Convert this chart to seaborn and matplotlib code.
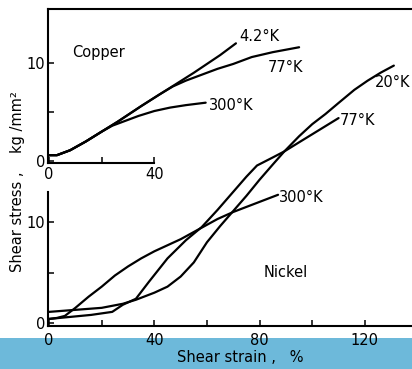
import matplotlib
matplotlib.use("Agg")
import matplotlib.pyplot as plt
from matplotlib.patches import Rectangle
import seaborn as sns

sns.set_style("ticks")
plt.rcParams["font.family"] = ["DejaVu Sans"]
plt.rcParams.update({
    "text.color": "black",
    "axes.edgecolor": "black",
    "xtick.color": "black",
    "ytick.color": "black",
    "axes.labelcolor": "black",
})

# ---- Nickel (main axes): shear strain (%) vs shear stress (kg/mm^2)
ni_20k_strain = [0, 10, 20, 28, 33, 40, 45, 50, 55, 60, 65, 70, 75, 80, 85,
                 89.4, 95, 100, 105, 110, 116, 121, 126, 131]
ni_20k_stress = [1.1, 1.3, 1.5, 1.9, 2.3, 3.0, 3.6, 4.6, 6.0, 8.0, 9.6, 11.1,
                 12.6, 14.2, 15.7, 17.0, 18.5, 19.7, 20.7, 21.8, 23.1, 24.0,
                 24.8, 25.5]

ni_77k_strain = [0, 8, 16, 24, 28, 33, 38, 45, 52, 58, 64, 70, 75, 79, 85,
                 89.4, 95, 100, 105, 110]
ni_77k_stress = [0.4, 0.6, 0.8, 1.1, 1.8, 2.4, 4.1, 6.4, 8.2, 9.5, 11.2, 13.0,
                 14.5, 15.6, 16.4, 17.0, 17.9, 18.7, 19.5, 20.3]

ni_300k_strain = [0, 3, 6, 10, 15, 20, 25, 30, 35, 40, 45, 50, 57, 64, 70, 76,
                  82, 87]
ni_300k_stress = [0.4, 0.5, 0.7, 1.5, 2.6, 3.6, 4.7, 5.6, 6.4, 7.1, 7.7, 8.3,
                  9.3, 10.3, 11.0, 11.6, 12.2, 12.7]

# ---- Copper (inset)
cu_4k_strain = [0, 3, 8, 14, 20, 26, 35, 45, 55, 65, 71]
cu_4k_stress = [0.6, 0.6, 1.1, 2.0, 3.0, 4.0, 5.6, 7.3, 9.0, 10.8, 12.0]

cu_77k_strain = [0, 3, 8, 14, 20, 26, 35, 42, 47, 52, 58, 64, 70, 77, 85, 95]
cu_77k_stress = [0.6, 0.6, 1.1, 2.0, 3.0, 4.0, 5.6, 6.8, 7.6, 8.2, 8.8, 9.4,
                 9.9, 10.6, 11.1, 11.6]

cu_300k_strain = [0, 3, 8, 14, 20, 24, 28, 34, 40, 46, 52, 59.5]
cu_300k_stress = [0.6, 0.6, 1.1, 2.0, 3.0, 3.6, 4.0, 4.6, 5.1, 5.45, 5.7, 5.95]

W, H = 412, 369
fig = plt.figure(figsize=(W / 100, H / 100), dpi=100)
fig.patch.set_facecolor("white")

# light-blue band along the bottom edge
fig.add_artist(Rectangle((0, 0), 1, (H - 338) / H, transform=fig.transFigure,
                         facecolor="#6db9da", edgecolor="none", zorder=-5))

FS = 10.5
LW = 1.6
SPW = 1.5

left = 47.5 / W
width = 1 - left

# main axes (Nickel)
ax = fig.add_axes([left, (H - 326) / H, width, 326 / H])
ax.set_facecolor("none")
ax.set_xlim(-0.6, 137.9)
ax.set_ylim(-0.3, 32.0)
for s_x, s_y in [(ni_20k_strain, ni_20k_stress),
                 (ni_77k_strain, ni_77k_stress),
                 (ni_300k_strain, ni_300k_stress)]:
    sns.lineplot(x=s_x, y=s_y, ax=ax, color="black", lw=LW, sort=False,
                 estimator=None)
ax.spines["top"].set_visible(False)
ax.spines["right"].set_visible(False)
ax.spines["left"].set_bounds(-0.3, 13.0)
for sp in ("left", "bottom"):
    ax.spines[sp].set_linewidth(SPW)
    ax.spines[sp].set_color("black")
ax.set_xticks([0, 20, 40, 60, 80, 100, 120])
ax.set_xticklabels(["0", "", "40", "", "80", "", "120"])
ax.set_yticks([0, 5, 10])
ax.set_yticklabels(["0", "", "10"])
ax.tick_params(axis="x", direction="in", length=4.5, width=1.1, pad=5,
               labelsize=FS, colors="black")
ax.tick_params(axis="y", direction="in", length=4.5, width=1.1, pad=1.5,
               labelsize=FS, colors="black")
ax.set_xlabel("")
ax.set_ylabel("")

ax.text(123.8, 23.8, "20°K", fontsize=FS, ha="left", va="center")
ax.text(110.5, 20.1, "77°K", fontsize=FS, ha="left", va="center")
ax.text(87.5, 12.4, "300°K", fontsize=FS, ha="left", va="center")
ax.text(90, 5.0, "Nickel", fontsize=FS, ha="center", va="center")

# inset axes (Copper)
ins = fig.add_axes([left, (H - 163) / H, width, (163 - 9) / H])
ins.set_facecolor("none")
ins.set_xlim(-0.6, 137.9)
ins.set_ylim(-0.2, 15.5)
for s_x, s_y in [(cu_4k_strain, cu_4k_stress),
                 (cu_77k_strain, cu_77k_stress),
                 (cu_300k_strain, cu_300k_stress)]:
    sns.lineplot(x=s_x, y=s_y, ax=ins, color="black", lw=LW, sort=False,
                 estimator=None)
ins.spines["right"].set_visible(False)
ins.spines["bottom"].set_bounds(-0.6, 40)
for sp in ("left", "bottom", "top"):
    ins.spines[sp].set_linewidth(SPW)
    ins.spines[sp].set_color("black")
ins.set_xticks([0, 20, 40])
ins.set_xticklabels(["0", "", "40"])
ins.set_yticks([0, 5, 10])
ins.set_yticklabels(["0", "", "10"])
ins.tick_params(axis="x", direction="in", length=4.5, width=1.1, pad=3,
                labelsize=FS, colors="black")
ins.tick_params(axis="y", direction="in", length=4.5, width=1.1, pad=1.5,
                labelsize=FS, colors="black")
ins.set_xlabel("")
ins.set_ylabel("")

ins.text(18.6, 11.1, "Copper", fontsize=FS, ha="center", va="center")
ins.text(72.3, 12.7, "4.2°K", fontsize=FS, ha="left", va="center")
ins.text(83.2, 9.5, "77°K", fontsize=FS, ha="left", va="center")
ins.text(60.6, 5.7, "300°K", fontsize=FS, ha="left", va="center")

# axis titles
fig.text(240 / W, 1 - 358 / H, "Shear strain ,   %", fontsize=FS,
         ha="center", va="center")
fig.text(18 / W, 1 - 182 / H, "Shear stress ,    kg /mm²", fontsize=FS,
         rotation=90, ha="center", va="center")

fig.savefig("out.png", dpi=100)
